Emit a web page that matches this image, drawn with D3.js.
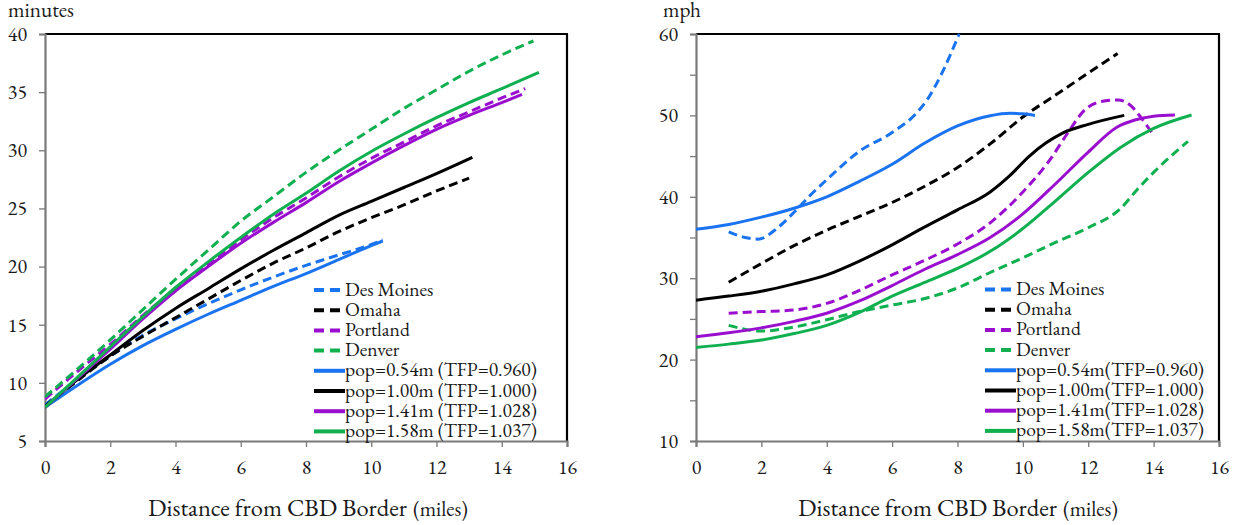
<!DOCTYPE html>
<html><head><meta charset="utf-8">
<script src="https://cdn.jsdelivr.net/npm/d3@7"></script>
<style>html,body{margin:0;padding:0;background:#fff;}</style>
</head>
<body><svg id="c" width="1240" height="525"></svg>
<script>
// ---------- DATA ----------
const seriesNames = ["Des Moines","Omaha","Portland","Denver",
  "pop=0.54m (TFP=0.960)","pop=1.00m (TFP=1.000)","pop=1.41m (TFP=1.028)","pop=1.58m (TFP=1.037)"];
const seriesNamesRight = ["Des Moines","Omaha","Portland","Denver",
  "pop=0.54m(TFP=0.960)","pop=1.00m(TFP=1.000)","pop=1.41m(TFP=1.028)","pop=1.58m(TFP=1.037)"];
const seriesColors = ["#1a73f0","#000000","#9a0fcf","#10b050","#1a73f0","#000000","#9a0fcf","#10b050"];
const seriesDashed = [true,true,true,true,false,false,false,false];

// Left panel: travel time (minutes) vs distance (miles)
const timeDesMoines = [[0,8.1],[1,10.3],[2,12.3],[3,14.1],[4,15.5],[5,16.8],[6,18.0],[7,19.1],[8,20.1],[9,21.0],[10,21.9],[10.35,22.3]];
const timeOmaha     = [[0,8.0],[1,10.2],[2,12.3],[3,14.0],[4,15.6],[5,17.2],[6,18.8],[7,20.3],[8,21.6],[9,23.0],[10,24.2],[11,25.3],[12,26.5],[13,27.6]];
const timePortland  = [[0,8.6],[1,11.0],[2,13.3],[3,15.8],[4,18.1],[5,20.2],[6,22.3],[7,24.2],[8,25.9],[9,27.7],[10,29.3],[11,30.7],[12,32.1],[13,33.3],[14,34.5],[14.72,35.3]];
const timeDenver    = [[0,8.8],[1,11.2],[2,13.7],[3,16.3],[4,18.9],[5,21.4],[6,23.9],[7,26.0],[8,28.1],[9,30.0],[10,31.8],[11,33.6],[12,35.2],[13,36.8],[14,38.2],[14.97,39.4]];
const timePop054    = [[0,7.9],[1,9.8],[2,11.6],[3,13.2],[4,14.6],[5,15.9],[6,17.1],[7,18.3],[8,19.4],[9,20.6],[10,21.8],[10.35,22.2]];
const timePop100    = [[0,7.9],[1,10.3],[2,12.4],[3,14.5],[4,16.4],[5,18.1],[6,19.8],[7,21.4],[8,22.9],[9,24.4],[10,25.6],[11,26.8],[12,28.0],[13.1,29.4]];
const timePop141    = [[0,7.9],[1,10.4],[2,12.9],[3,15.5],[4,17.9],[5,20.0],[6,22.0],[7,23.8],[8,25.5],[9,27.3],[10,28.9],[11,30.4],[12,31.8],[13,33.0],[14,34.1],[14.62,34.8]];
const timePop158    = [[0,7.9],[1,10.5],[2,13.1],[3,15.7],[4,18.2],[5,20.4],[6,22.5],[7,24.5],[8,26.3],[9,28.2],[10,29.9],[11,31.4],[12,32.8],[13,34.1],[14,35.3],[15.14,36.7]];

// Right panel: speed (mph) vs distance (miles)
const speedDesMoines = [[1,35.7],[1.5,35.0],[1.9,34.8],[2.5,36.2],[3,38.1],[3.5,40.2],[4,42.1],[5,45.6],[6,47.9],[6.75,50.3],[7.1,52.1],[7.5,55.0],[8.05,60]];
const speedOmaha     = [[1,29.5],[2,31.8],[3,34.0],[4,35.9],[5,37.6],[6,39.3],[7,41.3],[8,43.6],[9,46.5],[10,49.8],[11,52.5],[12,55.2],[12.9,57.6]];
const speedPortland  = [[1,25.7],[2,25.9],[3,26.1],[4,26.9],[5,28.5],[6,30.4],[7,32.2],[8,34.2],[9,36.8],[10,40.6],[10.8,44.4],[11.4,48.0],[11.85,50.5],[12.4,51.7],[12.9,51.9],[13.3,51.2],[13.6,49.8],[13.99,47.6]];
const speedDenver    = [[1,24.2],[2,23.5],[3,24.0],[4,24.9],[5,25.9],[6,26.7],[7,27.5],[8,28.8],[9,30.7],[10,32.5],[11,34.4],[12,36.2],[13,38.6],[13.5,40.9],[14,43.0],[15.05,46.8]];
const speedPop054    = [[0,36.0],[1,36.6],[2,37.5],[3,38.6],[4,40.0],[5,41.9],[6,44.0],[7,46.6],[8,48.7],[9,49.95],[9.6,50.25],[10,50.2],[10.37,50.0]];
const speedPop100    = [[0,27.3],[1,27.8],[2,28.4],[3,29.3],[4,30.4],[5,32.1],[6,34.1],[7,36.3],[8,38.4],[9,40.6],[9.6,42.6],[10.2,45.0],[10.7,46.6],[11.2,47.8],[12,48.9],[13.1,50.0]];
const speedPop141    = [[0,22.8],[1,23.3],[2,23.9],[3,24.7],[4,25.7],[5,27.2],[6,29.1],[7,31.1],[8,32.9],[9,35.0],[10,37.9],[11,41.6],[12,45.5],[12.9,48.6],[13.4,49.4],[14,49.9],[14.65,50.05]];
const speedPop158    = [[0,21.5],[1,21.9],[2,22.4],[3,23.2],[4,24.2],[5,25.8],[6,27.8],[7,29.5],[8,31.2],[9,33.3],[10,36.1],[11,39.5],[12,43.0],[13,46.1],[14,48.4],[15.16,50.05]];

const leftSeries  = [timeDesMoines,timeOmaha,timePortland,timeDenver,timePop054,timePop100,timePop141,timePop158];
const rightSeries = [speedDesMoines,speedOmaha,speedPortland,speedDenver,speedPop054,speedPop100,speedPop141,speedPop158];

const xTicks = [0,2,4,6,8,10,12,14,16];
const leftYTicks = [5,10,15,20,25,30,35,40];
const rightYTicks = [10,15,20,25,30,35,40,45,50,55,60];
const rightYLabels = [10,20,30,40,50,60];

// ---------- DRAW ----------
const FONT = '"EB Garamond","Liberation Serif","Times New Roman"';
const svg = d3.select("#c");

function fit(sel, target){
  const w = sel.node().getComputedTextLength();
  if (w > 0) sel.attr("font-size", (+sel.attr("font-size")) * target / w);
  return +sel.attr("font-size");
}

function panel(cfg){
  const x = d3.scaleLinear().domain([0,16]).range([cfg.x0, cfg.x1]);
  const y = d3.scaleLinear().domain(cfg.yDomain).range([441, 34]);
  const g = svg.append("g");

  // frame top/right (black)
  g.append("line").attr("x1",cfg.x0).attr("x2",cfg.x1+1).attr("y1",34).attr("y2",34).attr("stroke","#000").attr("stroke-width",2.2);
  g.append("line").attr("x1",cfg.x1).attr("x2",cfg.x1).attr("y1",34).attr("y2",441).attr("stroke","#000").attr("stroke-width",2.2);

  // x axis
  const xa = g.append("g").attr("transform",`translate(0,441)`)
    .call(d3.axisBottom(x).tickValues(xTicks).tickSize(6).tickPadding(13).tickFormat(d3.format("d")));
  xa.select(".domain").attr("stroke","#7a7a7a").attr("stroke-width",2.2);
  xa.selectAll(".tick line").attr("stroke","#7a7a7a").attr("stroke-width",1.3);
  xa.selectAll("text").attr("font-size",20).style("font-family",FONT).attr("fill","#1a1a1a");

  // y axis
  const ya = g.append("g").attr("transform",`translate(${cfg.x0},0)`)
    .call(d3.axisLeft(y).tickValues(cfg.yTicks).tickSize(6).tickPadding(12)
      .tickFormat(d => cfg.yLabels.includes(d) ? d : ""));
  ya.select(".domain").attr("stroke","#7a7a7a").attr("stroke-width",2.2);
  ya.selectAll(".tick line").attr("stroke","#7a7a7a").attr("stroke-width",1.3);
  ya.selectAll("text").attr("font-size",20).style("font-family",FONT).attr("fill","#1a1a1a");

  // unit label
  const u = g.append("text").attr("x",cfg.unitX).attr("y",17).attr("font-size",20).style("font-family",FONT).attr("fill","#1a1a1a").text(cfg.unit);
  fit(u, cfg.unitW);

  // x title
  const t1 = g.append("text").attr("x",cfg.titleX).attr("y",516).attr("font-size",24).style("font-family",FONT).attr("fill","#1a1a1a").text("Distance from CBD Border");
  fit(t1, 259);
  const t2 = g.append("text").attr("x",cfg.titleX+265).attr("y",516).attr("font-size",18).style("font-family",FONT).attr("fill","#1a1a1a").text("(miles)");
  fit(t2, 55);

  // lines
  const line = d3.line().x(d=>x(d[0])).y(d=>y(d[1])).curve(d3.curveMonotoneX);
  const clipId = "clip"+cfg.x0;
  svg.append("clipPath").attr("id",clipId).append("rect")
    .attr("x",cfg.x0).attr("y",33).attr("width",cfg.x1-cfg.x0).attr("height",409);
  const lg = g.append("g").attr("clip-path",`url(#${clipId})`);
  cfg.series.forEach((s,i)=>{
    lg.append("path").datum(s).attr("d",line).attr("fill","none")
      .attr("stroke",seriesColors[i]).attr("stroke-width",3)
      .attr("stroke-dasharray",seriesDashed[i]?"9,5":null);
  });

  // legend
  const leg = g.append("g");
  const texts = [];
  cfg.names.forEach((n,i)=>{
    const yy = cfg.legY + i*20.2;
    leg.append("line").attr("x1",cfg.legX).attr("x2",cfg.legX + (seriesDashed[i]?26:31))
      .attr("y1",yy).attr("y2",yy).attr("stroke",seriesColors[i]).attr("stroke-width",4)
      .attr("stroke-dasharray",seriesDashed[i]?"10,6":null);
    texts.push(leg.append("text").attr("x",cfg.legX+31).attr("y",yy+5.5).attr("font-size",18)
      .style("font-family",FONT).attr("fill","#1a1a1a").text(n));
  });
  const fs = fit(texts[4], cfg.legW);
  texts.forEach(t=>t.attr("font-size",fs));
}

panel({x0:45,x1:567,yDomain:[5,40],yTicks:leftYTicks,yLabels:leftYTicks,series:leftSeries,
  names:seriesNames,legX:314,legY:290,legW:192,unit:"minutes",unitX:8,unitW:66,titleX:148});
panel({x0:696,x1:1219,yDomain:[10,60],yTicks:rightYTicks,yLabels:rightYLabels,series:rightSeries,
  names:seriesNamesRight,legX:985,legY:289.5,legW:188,unit:"mph",unitX:663,unitW:38,titleX:798});
</script></body></html>
